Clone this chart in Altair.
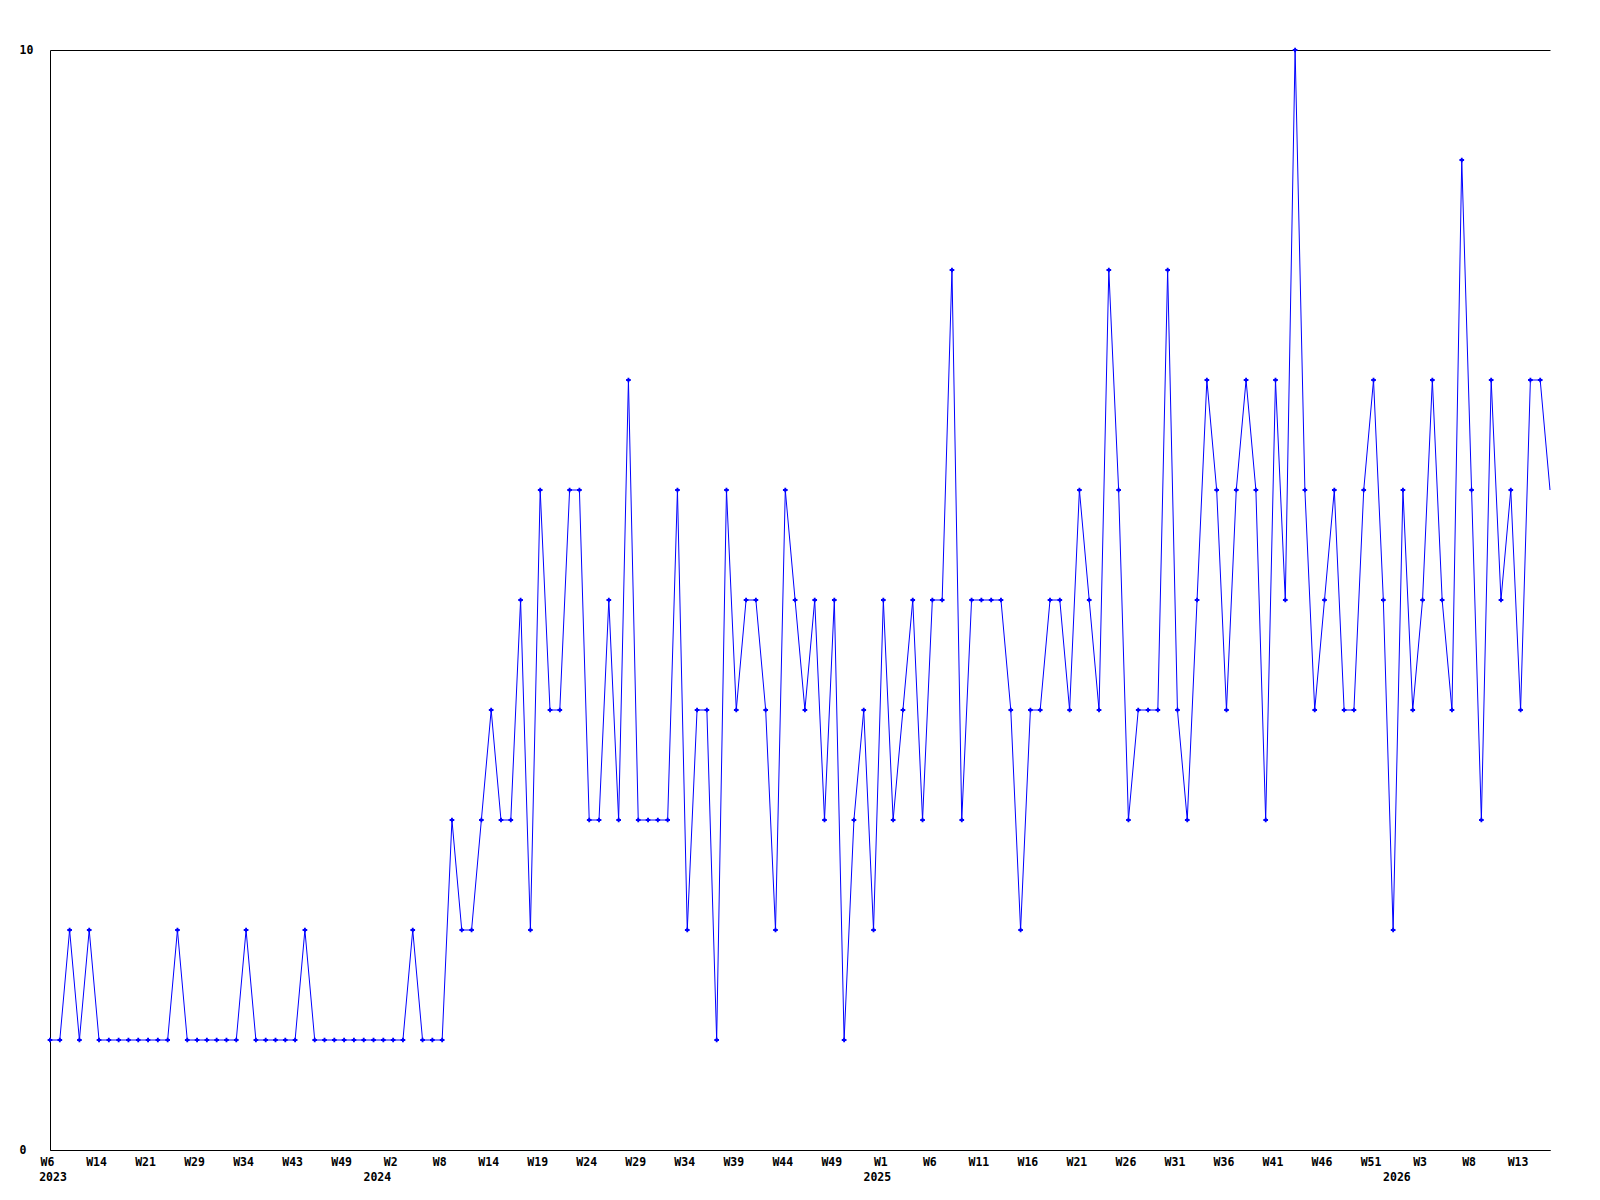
import altair as alt
import pandas as pd

# weekly values, one per point (W6 2023 ... W16 2026)
values = [
    1, 1, 2, 1, 2, 1, 1, 1, 1, 1, 1, 1, 1, 2, 1, 1, 1, 1, 1, 1,
    2, 1, 1, 1, 1, 1, 2, 1, 1, 1, 1, 1, 1, 1, 1, 1, 1, 2, 1, 1,
    1, 3, 2, 2, 3, 4, 3, 3, 5, 2, 6, 4, 4, 6, 6, 3, 3, 5, 3, 7,
    3, 3, 3, 3, 6, 2, 4, 4, 1, 6, 4, 5, 5, 4, 2, 6, 5, 4, 5, 3,
    5, 1, 3, 4, 2, 5, 3, 4, 5, 3, 5, 5, 8, 3, 5, 5, 5, 5, 4, 2,
    4, 4, 5, 5, 4, 6, 5, 4, 8, 6, 3, 4, 4, 4, 8, 4, 3, 5, 7, 6,
    4, 6, 7, 6, 3, 7, 5, 10, 6, 4, 5, 6, 4, 4, 6, 7, 5, 2, 6, 4,
    5, 7, 5, 4, 9, 6, 3, 7, 5, 6, 4, 7, 7, 6,
]

# tick labels, one every 5 points
week_ticks = [
    "W6", "W14", "W21", "W29", "W34", "W43", "W49",
    "W2", "W8", "W14", "W19", "W24", "W29", "W34", "W39", "W44", "W49",
    "W1", "W6", "W11", "W16", "W21", "W26", "W31", "W36", "W41", "W46", "W51",
    "W3", "W8", "W13",
]

# year labels and the index of the first point of each year
years = ["2023", "2024", "2025", "2026"]
year_first_point = [0, 34, 85, 138]

FONT = "DejaVu Sans Mono"
FS = 11.5
BLUE = "#0000ff"

n = len(values)
df = pd.DataFrame({"i": list(range(n)), "v": values})
tick_idx = [k * 5 for k in range(len(week_ticks))]
label_expr = "[" + ",".join("'%s'" % w for w in week_ticks) + "][round(datum.value/5)]"

xscale = alt.Scale(domain=[0, n - 1], nice=False, zero=False)
yscale = alt.Scale(domain=[0, 10], nice=False, zero=True)

x_enc = alt.X(
    "i:Q", scale=xscale,
    axis=alt.Axis(
        values=tick_idx, labelExpr=label_expr, title=None, grid=False,
        ticks=False, domainColor="black", domainWidth=1,
        labelFont=FONT, labelFontWeight="bold", labelFontSize=FS,
        labelColor="black", labelPadding=6, labelAngle=0,
        labelFlush=False, labelOverlap=False, labelBaseline="top",
        labelAlign="center", labelOffset=-3,
    ),
)
y_enc = alt.Y(
    "v:Q", scale=yscale,
    axis=alt.Axis(
        values=[0, 10], format="d", title=None, grid=True, gridColor="black",
        gridOpacity=1, gridWidth=1, domainColor="black", domainWidth=1,
        ticks=True, tickSize=0, labelAlign="left", labelPadding=31,
        labelBaseline="middle", labelFont=FONT, labelFontWeight="bold",
        labelFontSize=FS, labelColor="black",
    ),
)

line = alt.Chart(df).mark_line(color=BLUE, strokeWidth=1).encode(x=x_enc, y=y_enc)
points = (
    alt.Chart(df)
    .transform_filter(alt.datum.i < n - 1)
    .mark_point(shape="cross", filled=True, size=22, color=BLUE, opacity=1)
    .encode(x=alt.X("i:Q", scale=xscale), y=alt.Y("v:Q", scale=yscale))
)

ydf = pd.DataFrame({"year": years, "i": year_first_point})
year_first = (
    alt.Chart(ydf.iloc[:1])
    .mark_text(font=FONT, fontWeight="bold", fontSize=FS, color="black",
               align="center", baseline="top", dx=3)
    .encode(x=alt.X("i:Q", scale=xscale), y=alt.value(1122), text="year:N")
)
year_rest = (
    alt.Chart(ydf.iloc[1:])
    .mark_text(font=FONT, fontWeight="bold", fontSize=FS, color="black",
               align="center", baseline="top", dx=-6)
    .encode(x=alt.X("i:Q", scale=xscale), y=alt.value(1122), text="year:N")
)

chart = (
    alt.layer(line, points, year_first, year_rest)
    .properties(
        width=1500, height=1100,
        autosize=alt.AutoSizeParams(type="none"),
        padding={"left": 42, "top": 42, "right": 42, "bottom": 42},
        background="white",
    )
    .configure_view(stroke=None)
)

chart.save("out.html", embed_options={"renderer": "svg", "actions": False})
